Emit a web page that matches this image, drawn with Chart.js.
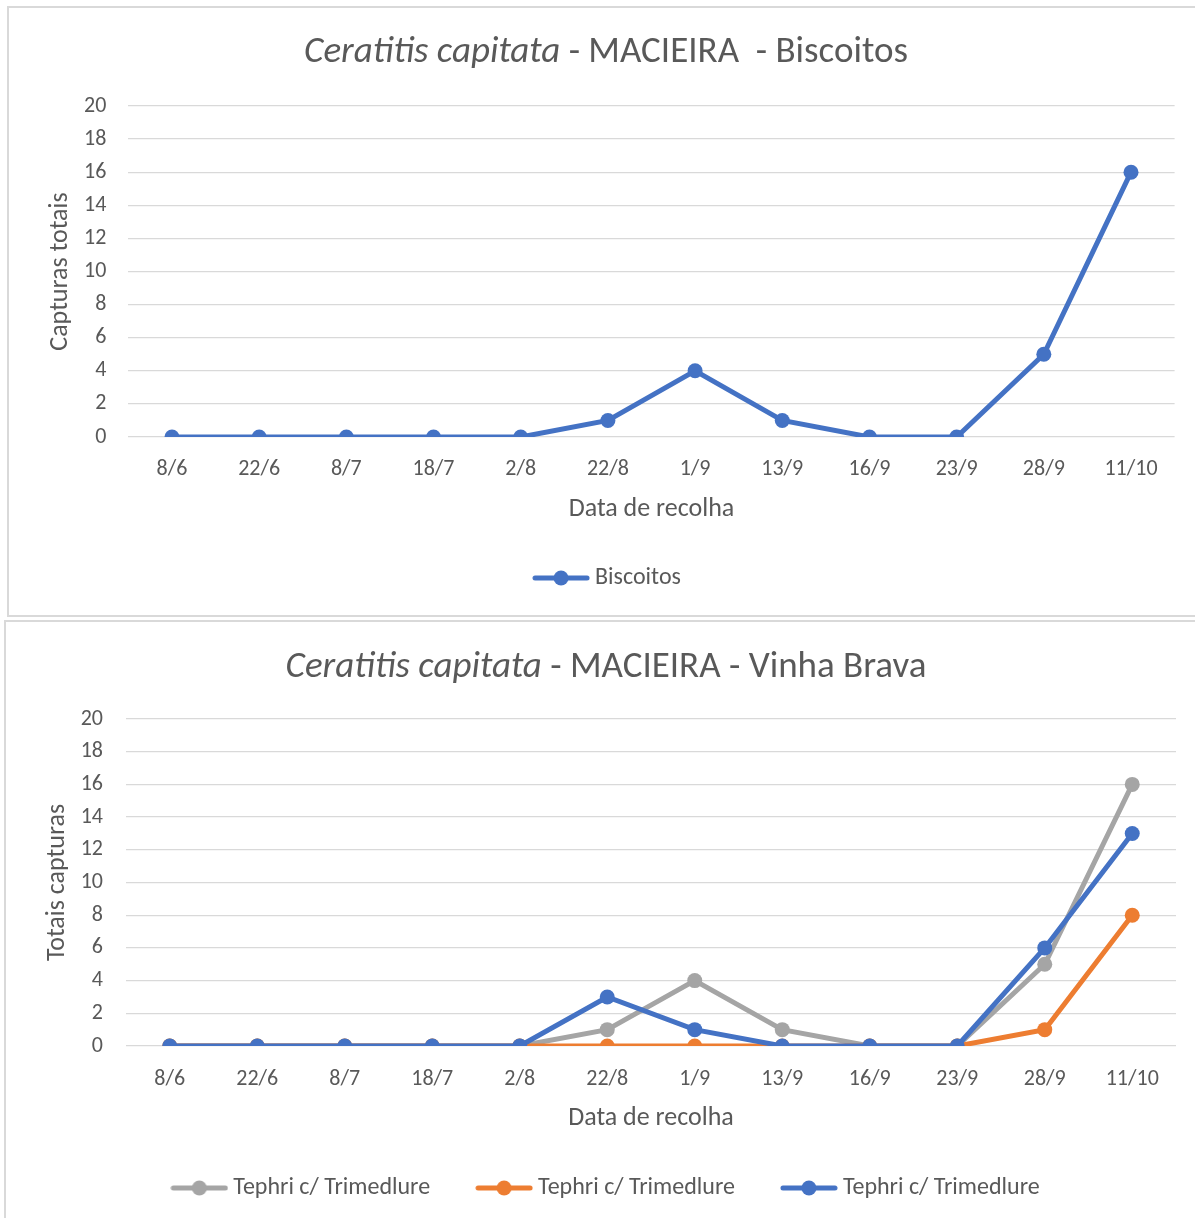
<!DOCTYPE html>
<html>
<head>
<meta charset="utf-8">
<script src="https://cdn.jsdelivr.net/npm/chart.js@4/dist/chart.umd.min.js"></script>
<style>
  body { margin: 0; background: #fff; width: 1195px; height: 1218px; overflow: hidden; position: relative;
         font-family: Carlito, Calibri, Lato, "Open Sans", sans-serif; }
  .box { position: absolute; border: 2px solid #d9d9d9; box-sizing: border-box; }
  #box1 { left: 7px; top: 6px; width: 1210px; height: 611px; }
  #box2 { left: 4px; top: 620px; width: 1210px; height: 620px; }
  .title { position: absolute; left: 0; width: 1212px; text-align: center; font-size: 37px;
           line-height: 40px; color: #595959; white-space: pre; }
  canvas { position: absolute; }
  #c1 { left: 8px; top: 7px; }
  #c2 { left: 5px; top: 621px; }
</style>
</head>
<body>
<div class="box" id="box1"></div>
<div class="box" id="box2"></div>
<canvas id="c1" width="1187" height="609"></canvas>
<canvas id="c2" width="1190" height="597"></canvas>
<div class="title" style="top:30px"><i>Ceratitis capitata</i> - MACIEIRA  - Biscoitos</div>
<div class="title" style="top:645px"><i>Ceratitis capitata</i> - MACIEIRA - Vinha Brava</div>
<script>
  "use strict";

  const DATES = ["8/6", "22/6", "8/7", "18/7", "2/8", "22/8", "1/9", "13/9", "16/9", "23/9", "28/9", "11/10"];

  // top chart
  const BISCOITOS = [0, 0, 0, 0, 0, 1, 4, 1, 0, 0, 5, 16];

  // bottom chart (three series, same legend label)
  const VB_GREY = [0, 0, 0, 0, 0, 1, 4, 1, 0, 0, 5, 16];
  const VB_ORANGE = [0, 0, 0, 0, 0, 0, 0, 0, 0, 0, 1, 8];
  const VB_BLUE = [0, 0, 0, 0, 0, 3, 1, 0, 0, 0, 6, 13];
  const SERIES_LABEL = "Tephri c/ Trimedlure";

  const Y_MAX = 20;
  const Y_STEP = 2;

  const BLUE = "#4472C4";
  const ORANGE = "#ED7D31";
  const GREY = "#A5A5A5";
  const TEXT = "#595959";
  const GRID = "#d9d9d9";
  const FONT = "Carlito, Calibri, Lato, 'Open Sans', sans-serif";

  Chart.defaults.font.family = FONT;
  Chart.defaults.color = TEXT;

  // line + marker swatch for the legend, like the spreadsheet legend
  function swatch(color) {
    const c = document.createElement("canvas");
    c.width = 58;
    c.height = 18;
    const g = c.getContext("2d");
    g.strokeStyle = color;
    g.lineWidth = 5;
    g.lineCap = "round";
    g.beginPath();
    g.moveTo(3, 9);
    g.lineTo(55, 9);
    g.stroke();
    g.fillStyle = color;
    g.beginPath();
    g.arc(29, 9, 7.5, 0, Math.PI * 2);
    g.fill();
    return c;
  }

  function series(label, data, color, order) {
    return {
      label,
      data,
      borderColor: color,
      backgroundColor: color,
      borderWidth: 5,
      pointRadius: 7.5,
      pointBorderWidth: 0,
      pointBackgroundColor: color,
      tension: 0,
      order,
      swatch: swatch(color),
    };
  }

  function makeOptions(cfg) {
    return {
      responsive: false,
      animation: false,
      layout: { padding: cfg.padding },
      plugins: {
        title: { display: false },
        tooltip: { enabled: false },
        legend: {
          position: "bottom",
          labels: {
            usePointStyle: true,
            pointStyleWidth: 44,
            padding: cfg.legendPadding,
            color: TEXT,
            font: { size: 24 },
            sort: (a, b) => a.datasetIndex - b.datasetIndex,
            generateLabels: (chart) =>
              Chart.defaults.plugins.legend.labels.generateLabels(chart).map((item) => {
                item.pointStyle = chart.data.datasets[item.datasetIndex].swatch;
                return item;
              }),
          },
        },
      },
      scales: {
        x: {
          offset: true,
          grid: { display: false, drawTicks: false },
          border: { display: false },
          ticks: { padding: cfg.xTickPad, font: { size: 22 }, color: TEXT, maxRotation: 0, autoSkip: false },
          title: {
            display: true,
            text: "Data de recolha",
            color: TEXT,
            font: { size: 26, lineHeight: 1 },
            padding: { top: 0, bottom: cfg.xTitlePad },
          },
          afterFit: (s) => { s.height = cfg.xHeight; },
        },
        y: {
          min: 0,
          max: Y_MAX,
          grid: { color: GRID, lineWidth: 1.3, drawTicks: false },
          border: { display: false },
          ticks: { stepSize: Y_STEP, padding: cfg.yTickPad, font: { size: 22 }, color: TEXT },
          title: {
            display: true,
            text: cfg.yTitle,
            color: TEXT,
            font: { size: 26, lineHeight: 1.2 },
            padding: { top: cfg.yTitlePad, bottom: 0 },
          },
          afterFit: (s) => { s.width = cfg.yWidth; },
        },
      },
    };
  }

  new Chart(document.getElementById("c1"), {
    type: "line",
    data: {
      labels: DATES,
      datasets: [series("Biscoitos", BISCOITOS, BLUE, 0)],
    },
    options: makeOptions({
      padding: { top: 99, right: 20.4, bottom: 16, left: 37.4 },
      legendPadding: 10,
      xHeight: 119,
      xTickPad: 19,
      xTitlePad: 34,
      yWidth: 83,
      yTickPad: 22,
      yTitlePad: -1,
      yTitle: "Capturas totais",
    }),
  });

  new Chart(document.getElementById("c2"), {
    type: "line",
    data: {
      labels: DATES,
      datasets: [
        series(SERIES_LABEL, VB_GREY, GREY, 3),
        series(SERIES_LABEL, VB_ORANGE, ORANGE, 2),
        series(SERIES_LABEL, VB_BLUE, BLUE, 1),
      ],
    },
    options: makeOptions({
      padding: { top: 98, right: 19, bottom: 8, left: 36 },
      legendPadding: 52,
      xHeight: 78,
      xTickPad: 20,
      xTitlePad: -7,
      yWidth: 85,
      yTickPad: 23,
      yTitlePad: 0.4,
      yTitle: "Totais capturas",
    }),
  });
</script>
</body>
</html>
